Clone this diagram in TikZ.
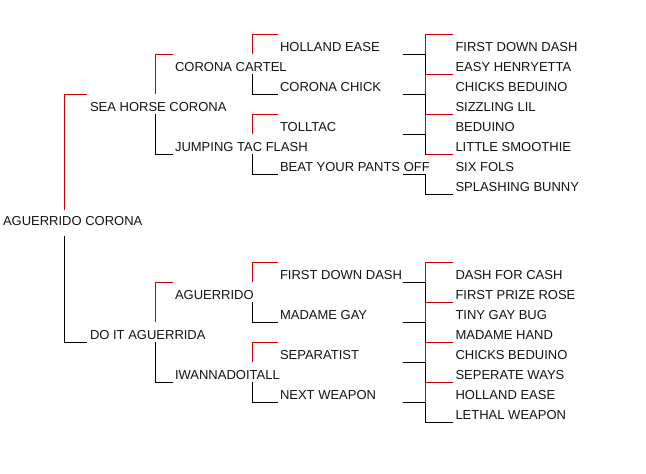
\documentclass[tikz,border=0pt]{standalone}
\usepackage{fontspec}
\setmainfont{Liberation Sans}
\usetikzlibrary{calc}
\definecolor{sirered}{RGB}{204,0,0}
\definecolor{txt}{RGB}{20,20,20}
\tikzset{
  lbl/.style={inner sep=0pt, outer sep=0pt, anchor=west, text height=11pt, text depth=0pt,
    font=\fontsize{13}{15}\selectfont, text=txt},
  sirel/.style={draw=sirered, line width=1pt},
  daml/.style={draw=black, line width=1pt},
}
% #1 column coord, #2 sire node, #3 parent node, #4 horizontal length, #5 end offset at parent
\newcommand{\sirebr}[5]{\draw[sirel] ($(#1|-#2.center)+(#4,-12)$) -- ($(#1|-#2.center)+(0,-12)$) -- ($(#1|-#3.center)+(0,#5)$);}
% #1 column coord, #2 dam node, #3 parent node, #4 horizontal length, #5 start offset at parent
\newcommand{\dambr}[5]{\draw[daml] ($(#1|-#3.center)+(0,#5)$) -- ($(#1|-#2.center)+(0,8)$) -- ($(#1|-#2.center)+(#4,8)$);}
\newcommand{\feedline}[2]{\draw[daml] ($(#1|-#2.center)+(-23,8)$) -- ($(#1|-#2.center)+(0,8)$);}
\begin{document}
\begin{tikzpicture}[x=1pt,y=-1pt]
\useasboundingbox[fill=white] (0,0) rectangle (646,474);
\coordinate (c1) at (64,0);
\coordinate (c2) at (155,0);
\coordinate (c3) at (252,0);
\coordinate (c4) at (425.5,0);
% generation 0
\node[lbl] (root) at (3,220) {AGUERRIDO CORONA};
% generation 1
\node[lbl] (a) at (90,106) {SEA HORSE CORONA};
\node[lbl] (b) at (90,334) {DO IT AGUERRIDA};
% generation 2
\node[lbl] (aa) at (175,66) {CORONA CARTEL};
\node[lbl] (ab) at (175,146) {JUMPING TAC FLASH};
\node[lbl] (ba) at (175,294) {AGUERRIDO};
\node[lbl] (bb) at (175,374) {IWANNADOITALL};
% generation 3
\node[lbl] (aaa) at (280,46) {HOLLAND EASE};
\node[lbl] (aab) at (280,86) {CORONA CHICK};
\node[lbl] (aba) at (280,126) {TOLLTAC};
\node[lbl] (abb) at (280,166) {BEAT YOUR PANTS OFF};
\node[lbl] (baa) at (280,274) {FIRST DOWN DASH};
\node[lbl] (bab) at (280,314) {MADAME GAY};
\node[lbl] (bba) at (280,354) {SEPARATIST};
\node[lbl] (bbb) at (280,394) {NEXT WEAPON};
% generation 4
\node[lbl] (u1) at (455.5,46) {FIRST DOWN DASH};
\node[lbl] (u2) at (455.5,66) {EASY HENRYETTA};
\node[lbl] (u3) at (455.5,86) {CHICKS BEDUINO};
\node[lbl] (u4) at (455.5,106) {SIZZLING LIL};
\node[lbl] (u5) at (455.5,126) {BEDUINO};
\node[lbl] (u6) at (455.5,146) {LITTLE SMOOTHIE};
\node[lbl] (u7) at (455.5,166) {SIX FOLS};
\node[lbl] (u8) at (455.5,186) {SPLASHING BUNNY};
\node[lbl] (l1) at (455.5,274) {DASH FOR CASH};
\node[lbl] (l2) at (455.5,294) {FIRST PRIZE ROSE};
\node[lbl] (l3) at (455.5,314) {TINY GAY BUG};
\node[lbl] (l4) at (455.5,334) {MADAME HAND};
\node[lbl] (l5) at (455.5,354) {CHICKS BEDUINO};
\node[lbl] (l6) at (455.5,374) {SEPERATE WAYS};
\node[lbl] (l7) at (455.5,394) {HOLLAND EASE};
\node[lbl] (l8) at (455.5,414) {LETHAL WEAPON};
% ---- dam (black) lines first ----
\dambr{c1}{b}{root}{23}{16}
\dambr{c2}{ab}{a}{18}{8}
\dambr{c2}{bb}{b}{18}{8}
\dambr{c3}{aab}{aa}{26}{8}
\dambr{c3}{abb}{ab}{26}{8}
\dambr{c3}{bab}{ba}{26}{8}
\dambr{c3}{bbb}{bb}{26}{8}
\feedline{c4}{aaa}\dambr{c4}{u2}{aaa}{27}{8}
\feedline{c4}{aab}\dambr{c4}{u4}{aab}{27}{8}
\feedline{c4}{aba}\dambr{c4}{u6}{aba}{27}{8}
\feedline{c4}{abb}\dambr{c4}{u8}{abb}{27}{8}
\feedline{c4}{baa}\dambr{c4}{l2}{baa}{27}{8}
\feedline{c4}{bab}\dambr{c4}{l4}{bab}{27}{8}
\feedline{c4}{bba}\dambr{c4}{l6}{bba}{27}{8}
\feedline{c4}{bbb}\dambr{c4}{l8}{bbb}{27}{8}
% ---- sire (red) lines ----
\sirebr{c1}{a}{root}{23}{-10}
\sirebr{c2}{aa}{a}{18}{-12}
\sirebr{c2}{ba}{b}{18}{-12}
\sirebr{c3}{aaa}{aa}{26}{-12}
\sirebr{c3}{aba}{ab}{26}{-12}
\sirebr{c3}{baa}{ba}{26}{-12}
\sirebr{c3}{bba}{bb}{26}{-12}
\sirebr{c4}{u1}{aaa}{27}{8}
\sirebr{c4}{u3}{aab}{27}{8}
\sirebr{c4}{u5}{aba}{27}{8}
\draw[sirel] ($(c4|-u7.center)+(27,-12)$) -- ($(c4|-u7.center)+(0,-12)$);
\sirebr{c4}{l1}{baa}{27}{8}
\sirebr{c4}{l3}{bab}{27}{8}
\sirebr{c4}{l5}{bba}{27}{8}
\sirebr{c4}{l7}{bbb}{27}{8}
\end{tikzpicture}
\end{document}
